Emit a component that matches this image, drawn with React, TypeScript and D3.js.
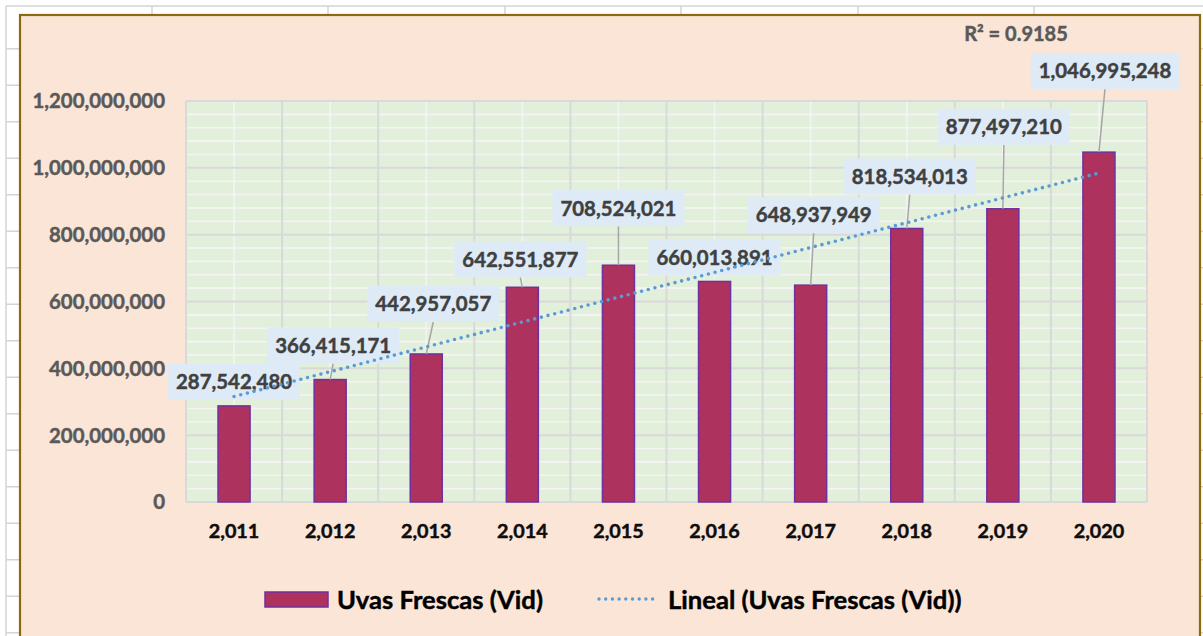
import React, { useEffect, useRef } from 'react';
import * as d3 from 'd3';

// ---- data ----
const years: string[] = ['2,011', '2,012', '2,013', '2,014', '2,015', '2,016', '2,017', '2,018', '2,019', '2,020'];
const values: number[] = [287542480, 366415171, 442957057, 642551877, 708524021, 660013891, 648937949, 818534013, 877497210, 1046995248];
const yTicks: number[] = [0, 200000000, 400000000, 600000000, 800000000, 1000000000, 1200000000];
const seriesName = 'Uvas Frescas (Vid)';
const trendName = 'Lineal (Uvas Frescas (Vid))';
const r2Label = 'R² = 0.9185';

// ---- layout (label placement offsets, px, relative to bar top centre) ----
const labelOffsets: [number, number][] = [
  [0, -24], [3, -34], [7, -50], [-2, -28], [0, -57],
  [0, -24], [3, -70], [3, -52], [1, -82], [6, -81],
];

const W = 1203;
const H = 636;
const FONT = 'Lato, "Open Sans", sans-serif';

export default function App() {
  const ref = useRef<SVGSVGElement | null>(null);

  useEffect(() => {
    const svg = d3.select(ref.current);
    svg.selectAll('*').remove();

    // spreadsheet background
    svg.append('rect').attr('width', W).attr('height', H).attr('fill', '#ffffff');
    const gridC = '#D4D4D4';
    const sheet = svg.append('g');
    sheet.append('line').attr('x1', 6).attr('x2', W).attr('y1', 6).attr('y2', 6).attr('stroke', gridC).attr('stroke-width', 1.5);
    [6, 152, 328, 505, 681, 858, 1034].forEach((x) => {
      sheet.append('line').attr('x1', x).attr('x2', x).attr('y1', 6).attr('y2', H).attr('stroke', gridC).attr('stroke-width', 1.5);
    });
    for (let y = 48.7; y < H; y += 36.5) {
      sheet.append('line').attr('x1', 6).attr('x2', W).attr('y1', y).attr('y2', y).attr('stroke', gridC).attr('stroke-width', 1.5);
    }

    // chart area
    svg.append('rect').attr('x', 20).attr('y', 15).attr('width', 1180).attr('height', 660)
      .attr('fill', '#FBE5D6').attr('stroke', '#8C6A14').attr('stroke-width', 2.2);

    const left = 186, right = 1147, top = 101, bottom = 502;
    const x = d3.scaleBand<string>().domain(years).range([left, right]).paddingInner(0).paddingOuter(0);
    const y = d3.scaleLinear().domain([0, 1200000000]).range([bottom, top]);
    const bw = x.bandwidth();

    // plot area
    svg.append('rect').attr('x', left).attr('y', top).attr('width', right - left).attr('height', bottom - top).attr('fill', '#E2EFDA');

    // minor gridlines (white)
    const minor = d3.range(0, 1200000001, 40000000).filter((v) => v % 200000000 !== 0);
    svg.append('g').selectAll('line').data(minor).join('line')
      .attr('x1', left).attr('x2', right).attr('y1', (d) => y(d)).attr('y2', (d) => y(d))
      .attr('stroke', '#F4F4F4').attr('stroke-width', 1.6);
    svg.append('g').selectAll('line').data(years).join('line')
      .attr('x1', (d) => (x(d) as number) + bw / 2).attr('x2', (d) => (x(d) as number) + bw / 2)
      .attr('y1', top).attr('y2', bottom)
      .attr('stroke', '#F4F4F4').attr('stroke-width', 1.6);

    // major gridlines (grey)
    svg.append('g').selectAll('line').data(yTicks).join('line')
      .attr('x1', left).attr('x2', right).attr('y1', (d) => y(d)).attr('y2', (d) => y(d))
      .attr('stroke', '#D9D9D9').attr('stroke-width', 2);
    const bounds = years.map((d) => x(d) as number).concat([right]);
    svg.append('g').selectAll('line').data(bounds).join('line')
      .attr('x1', (d) => d).attr('x2', (d) => d).attr('y1', top).attr('y2', bottom)
      .attr('stroke', '#D9D9D9').attr('stroke-width', 2);

    // bars
    const barW = bw / 3;
    svg.append('g').selectAll('rect').data(values).join('rect')
      .attr('x', (_d, i) => (x(years[i]) as number) + (bw - barW) / 2)
      .attr('y', (d) => y(d))
      .attr('width', barW)
      .attr('height', (d) => bottom - y(d))
      .attr('fill', '#AD325E')
      .attr('stroke', '#7030A0')
      .attr('stroke-width', 1.5);

    const fmt = d3.format(',');
    const fs = 20.4;
    const heavy = (sel: any, color: string) =>
      sel.attr('font-family', FONT).attr('font-weight', 700).attr('fill', color)
        .attr('stroke', color).attr('stroke-width', 0.45).attr('paint-order', 'stroke');

    // y tick labels
    heavy(svg.append('g').selectAll('text').data(yTicks).join('text')
      .attr('x', 165).attr('y', (d) => y(d) + fs * 0.36)
      .attr('text-anchor', 'end')
      .attr('font-size', fs)
      .text((d) => fmt(d)), '#595959');

    // x labels
    heavy(svg.append('g').selectAll('text').data(years).join('text')
      .attr('x', (d) => (x(d) as number) + bw / 2).attr('y', 531 + 19.8 * 0.36)
      .attr('text-anchor', 'middle')
      .attr('font-size', 19.8)
      .text((d) => d), '#0D0D0D');

    // data labels with leader lines
    const lab = svg.append('g');
    values.forEach((v, i) => {
      const bx = (x(years[i]) as number) + bw / 2;
      const by = y(v);
      const cx = bx + labelOffsets[i][0];
      const cy = by + labelOffsets[i][1];
      const g = lab.append('g');
      const rect = g.append('rect');
      const t = heavy(g.append('text')
        .attr('x', cx).attr('y', cy + fs * 0.36)
        .attr('text-anchor', 'middle')
        .attr('font-size', fs)
        .text(fmt(v)), '#404040');
      const tw = (t.node() as SVGTextElement).getComputedTextLength();
      const bwid = tw + 16, bh = 36;
      rect.attr('x', cx - bwid / 2).attr('y', cy - bh / 2).attr('width', bwid).attr('height', bh).attr('fill', '#DEEBF7');
      const boxBottom = cy + bh / 2;
      if (by - boxBottom > 7) {
        lab.insert('line', ':first-child')
          .attr('x1', cx).attr('y1', boxBottom).attr('x2', bx).attr('y2', by)
          .attr('stroke', '#A6A6A6').attr('stroke-width', 1.5);
      }
    });

    // linear trendline (least squares on the series)
    const n = values.length;
    const xs = d3.range(n);
    const mx = d3.mean(xs) as number;
    const my = d3.mean(values) as number;
    const slope = d3.sum(xs, (k) => (k - mx) * (values[k] - my)) / d3.sum(xs, (k) => (k - mx) * (k - mx));
    const icpt = my - slope * mx;
    const trendPts: [number, number][] = [0, n - 1].map((k) => [(x(years[k]) as number) + bw / 2, y(icpt + slope * k)]);
    svg.append('path')
      .attr('d', d3.line()(trendPts) as string)
      .attr('fill', 'none').attr('stroke', '#5B9BD5').attr('stroke-width', 3.6)
      .attr('stroke-linecap', 'round').attr('stroke-dasharray', '0 6.9');

    // R² label
    heavy(svg.append('text').attr('x', 1016).attr('y', 34 + 20 * 0.36)
      .attr('text-anchor', 'middle')
      .attr('font-size', 20)
      .text(r2Label), '#595959');

    // legend
    const lfs = 25.6;
    svg.append('rect').attr('x', 265).attr('y', 592).attr('width', 63).attr('height', 15)
      .attr('fill', '#AD325E').attr('stroke', '#7030A0').attr('stroke-width', 1.5);
    heavy(svg.append('text').attr('x', 337).attr('y', 600 + lfs * 0.36)
      .attr('font-size', lfs)
      .text(seriesName), '#000000');
    svg.append('line').attr('x1', 599).attr('x2', 659).attr('y1', 599).attr('y2', 599)
      .attr('stroke', '#5B9BD5').attr('stroke-width', 3.4).attr('stroke-linecap', 'round').attr('stroke-dasharray', '0 6.7');
    heavy(svg.append('text').attr('x', 668).attr('y', 600 + lfs * 0.36)
      .attr('font-size', lfs)
      .text(trendName), '#000000');
  }, []);

  return (
    <div style={{ position: 'absolute', left: 0, top: 0 }}>
      <svg ref={ref} width={W} height={H} style={{ display: 'block' }} />
    </div>
  );
}
